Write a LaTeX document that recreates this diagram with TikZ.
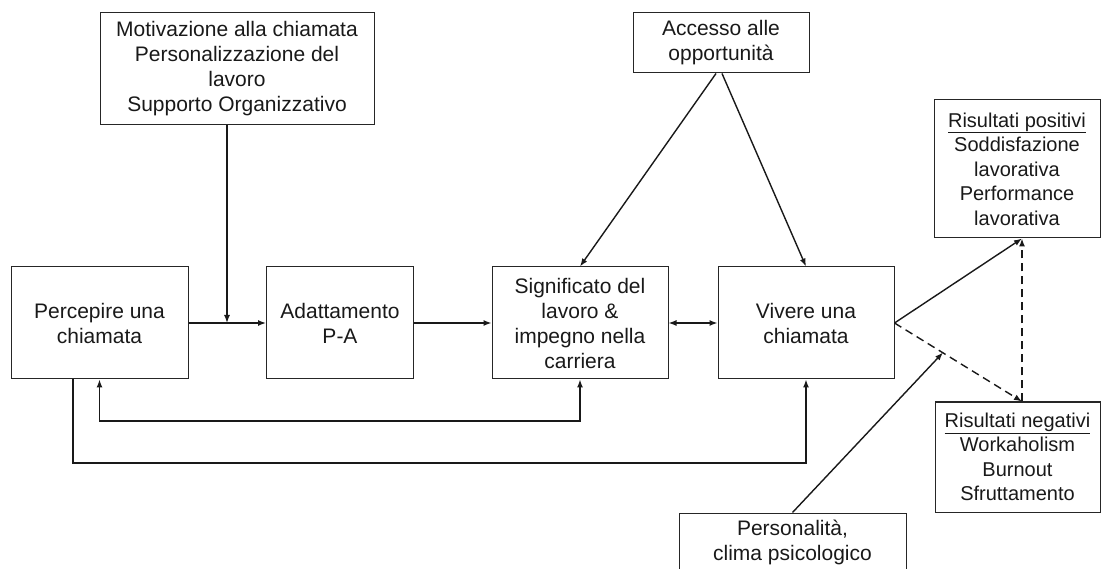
\documentclass[tikz,border=0pt]{standalone}
\usepackage{fontspec}
\setmainfont{Liberation Sans}
\usetikzlibrary{arrows.meta}
\begin{document}
\begin{tikzpicture}[x=1pt,y=-1pt,
  box/.style={draw=black!85,line width=1pt,rectangle,align=center,inner sep=0pt,
    font=\fontsize{21}{25}\selectfont,text=black!90},
  sbox/.style={box,font=\fontsize{20}{24.5}\selectfont},
  conn/.style={line width=1.4pt,black!90},
  arr/.style={conn,-{Latex[length=8pt,width=6pt]}},
  darr/.style={conn,{Latex[length=8pt,width=6pt]}-{Latex[length=8pt,width=6pt]}},
  dsh/.style={dash pattern=on 8pt off 5pt}]
\useasboundingbox (0,0) rectangle (1109,569);
% main row
\node[box,minimum width=177pt,minimum height=112pt] (perc) at (99.5,323) {Percepire una\\chiamata};
\node[box,minimum width=147pt,minimum height=112pt] (adat) at (340,323) {Adattamento\\P-A};
\node[box,minimum width=176pt,minimum height=112pt] (sign) at (580,323) {Significato del\\lavoro \&\\impegno nella\\carriera};
\node[box,minimum width=176pt,minimum height=112pt] (viv) at (806,323) {Vivere una\\chiamata};
% top boxes
\node[box,minimum width=274pt,minimum height=112pt] (moti) at (237,69) {Motivazione alla chiamata\\Personalizzazione del\\lavoro\\Supporto Organizzativo};
\node[box,minimum width=176pt,minimum height=60pt] (acc) at (721,43) {Accesso alle\\opportunità};
% right boxes
\node[sbox,minimum width=166pt,minimum height=138pt] (pos) at (1017,169) {\underline{Risultati positivi}\\Soddisfazione\\lavorativa\\Performance\\lavorativa};
\node[sbox,minimum width=165pt,minimum height=110pt] (neg) at (1017.5,457) {\underline{Risultati negativi}\\Workaholism\\Burnout\\Sfruttamento};
% bottom box
\node[box,minimum width=227pt,minimum height=59pt] (pers) at (792.5,542.5) {Personalità,\\clima psicologico};
% coordinates
\coordinate (j1) at (227,323);
\coordinate (f1) at (580,421);
\coordinate (f2) at (73,463);
\coordinate (p1) at ([xshift=5pt]pos.south);
\coordinate (n1) at ([xshift=4.5pt]neg.north);
\coordinate (m) at (943,352.5);
% connectors
\draw[arr] (j1 |- moti.south) -- (j1);
\draw[arr] (perc.east) -- (adat.west);
\draw[arr] (adat.east) -- (sign.west);
\draw[darr] (sign.east) -- (viv.west);
\draw[darr] (perc.south) |- (f1) -- (sign.south);
\draw[arr] (perc.south -| f2) |- (viv.south |- f2) -- (viv.south);
\draw[arr] ([xshift=-5pt]acc.south) -- (sign.north);
\draw[arr] ([xshift=1pt]acc.south) -- (viv.north);
\draw[arr] (viv.east) -- (p1);
\draw[arr,dsh] (viv.east) -- (n1);
\draw[arr,dsh] (n1) -- (p1);
\draw[arr] (pers.north) -- (m);
\end{tikzpicture}
\end{document}
